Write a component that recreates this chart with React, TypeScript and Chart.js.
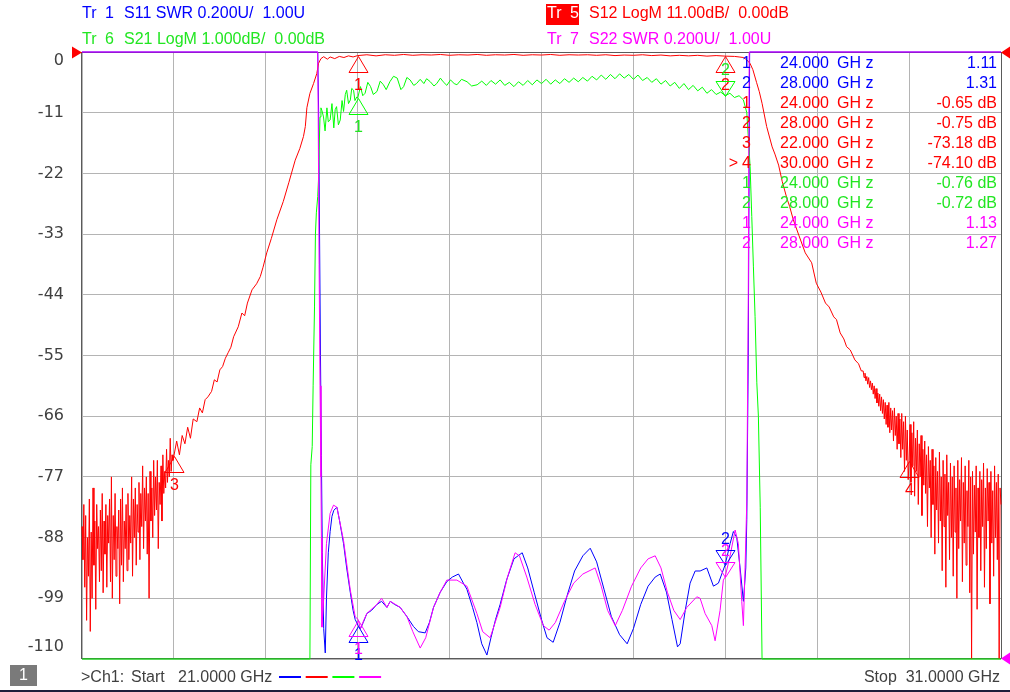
import React, { useEffect, useRef } from 'react';
import { Chart, registerables } from 'chart.js';

Chart.register(...registerables);

// ---------------- DATA ----------------
const FREQ_START = 21;
const FREQ_STOP = 31;
const yTickLabels = [0, -11, -22, -33, -44, -55, -66, -77, -88, -99, -110];

// Tr5 S12 LogM (dB): low-band noise, sampled every 0.01 GHz from 21.00 GHz
const s12LowNoiseStart = 21.0;
const s12LowNoiseStep = 0.01;
const s12LowNoise = [
  -86, -92, -82, -97, -84, -103, -88, -95, -81, -105,
  -87, -99, -79, -93, -85, -101, -82, -90, -86, -96,
  -83, -94, -80, -98, -85, -91, -82, -97, -84, -89,
  -81, -96, -77, -99, -84, -92, -80, -95, -86, -90,
  -83, -100, -81, -93, -79, -96, -85, -90, -82, -94,
  -80, -92, -84, -89, -77, -95, -81, -88, -79, -93,
  -82, -87, -78, -92, -80, -86, -75, -90, -79, -85,
  -77, -91, -80, -99, -76, -85, -79, -88, -74, -84,
  -77, -83, -74, -90, -78, -82, -75, -85, -73, -80,
  -76, -79, -72, -78, -74, -77, -70, -76, -73, -74,
];
// Tr5 S12 skirts and passband
const s12MidFreq = [
  22.0, 22.03, 22.06, 22.09, 22.12, 22.15, 22.18, 22.21, 22.25, 22.28,
  22.31, 22.34, 22.37, 22.41, 22.44, 22.47, 22.5, 22.53, 22.56, 22.59,
  22.62, 22.65, 22.7, 22.74, 22.77, 22.8, 22.85, 22.9, 22.94, 22.97,
  23.01, 23.06, 23.12, 23.19, 23.25, 23.32, 23.37, 23.41, 23.43, 23.447,
  23.48, 23.52, 23.555, 23.574, 23.6, 23.63,
  23.67, 23.7, 23.75, 23.8, 23.85, 23.9, 23.95, 24.0,
  24.1, 24.2, 24.3, 24.4, 24.5, 24.6, 24.7, 24.8, 24.9, 25.0,
  25.1, 25.2, 25.3, 25.4, 25.5, 25.6, 25.7, 25.8, 25.9, 26.0,
  26.1, 26.2, 26.3, 26.4, 26.5, 26.6, 26.7, 26.8, 26.9, 27.0,
  27.1, 27.2, 27.3, 27.4, 27.5, 27.6, 27.7, 27.8, 27.9, 28.0,
  28.1, 28.15,
  28.2, 28.235, 28.27, 28.3, 28.34, 28.37, 28.4, 28.45, 28.51, 28.54,
  28.58, 28.62, 28.67, 28.7, 28.74, 28.8, 28.87, 28.94, 28.99, 29.04,
  29.09, 29.13, 29.18, 29.21, 29.25, 29.29, 29.32, 29.36, 29.41, 29.45,
  29.48,
];
const s12MidVal = [
  -73.2, -70.5, -73, -69.5, -71, -68, -70, -66.5, -67, -64.5,
  -65.4, -63, -62.5, -61.5, -59.4, -59.8, -57.6, -57, -55.5, -54.5,
  -53.5, -51.6, -49.8, -47.3, -47.8, -45.5, -43.1, -42, -40.7, -39,
  -36.4, -33.8, -30.4, -27.1, -23.7, -19.6, -17.5, -15.3, -13.5, -10.1,
  -7.5, -5.7, -3.9, -2.05, -1.2, -0.85,
  -1.3, -0.9, -1.2, -0.8, -1.0, -0.7, -0.9, -0.65,
  -0.5, -0.7, -0.5, -0.6, -0.45, -0.6, -0.5, -0.55, -0.45, -0.6,
  -0.5, -0.55, -0.45, -0.6, -0.5, -0.55, -0.45, -0.6, -0.5, -0.55,
  -0.45, -0.6, -0.5, -0.55, -0.5, -0.6, -0.5, -0.65, -0.55, -0.6,
  -0.5, -0.65, -0.55, -0.7, -0.6, -0.7, -0.6, -0.75, -0.65, -0.75,
  -0.8, -0.9,
  -1.0, -1.45, -2.1, -3.2, -5.5, -7.2, -9.3, -13.5, -17.2, -18.5,
  -20.5, -23.5, -26.5, -28, -30.4, -33.2, -36.4, -38.2, -41.9, -43.5,
  -45.5, -46.2, -48, -48.5, -50.9, -52, -53.4, -54, -55.8, -56.5,
  -57.8,
];
// Tr5 S12 high-band noise, sampled every 0.01 GHz from 29.50 GHz
const s12HighNoiseStart = 29.5;
const s12HighNoiseStep = 0.01;
const s12HighNoise = [
  -57.8, -59.0, -58.2, -59.6, -58.8, -60.2, -59.0, -60.8, -59.6, -61.2,
  -60.0, -62.0, -60.5, -62.8, -61.0, -63.6, -61.8, -64.2, -62.0, -65.0,
  -62.5, -65.5, -63.0, -66.5, -63.5, -67.5, -64.0, -68.0, -63.5, -69.0,
  -64.5, -68.5, -65.0, -70.5, -64.5, -69.5, -66.0, -72.0, -65.5, -71.0,
  -66.5, -73.5, -65.5, -72.0, -67.0, -76.0, -66.0, -74.0, -68.5, -77.5,
  -74.1, -67.5, -78.0, -69.0, -75.0, -67.0, -80.5, -70.0, -76.0, -68.5,
  -82.0, -71.0, -77.0, -69.5, -84.0, -72.0, -78.5, -70.5, -80.0, -73.0,
  -86.0, -71.5, -79.0, -74.0, -88.0, -72.0, -82.0, -75.0, -91.0, -73.5,
  -83.0, -76.0, -89.0, -72.5, -85.0, -77.0, -94.0, -74.0, -86.0, -76.5,
  -97.0, -73.0, -84.0, -78.0, -92.0, -74.5, -88.0, -77.0, -95.0, -75.0,
  -87.0, -79.0, -99.0, -74.0, -90.0, -77.5, -85.0, -73.5, -96.0, -78.0,
  -89.0, -75.0, -93.0, -79.5, -86.0, -74.0, -98.0, -77.0, -110.0, -76.0,
  -91.0, -78.5, -87.0, -75.0, -101.0, -79.0, -88.0, -76.0, -94.0, -77.5,
  -86.0, -74.5, -97.0, -79.0, -90.0, -75.5, -85.0, -78.0, -100.0, -76.0,
  -89.0, -79.5, -95.0, -75.0, -88.0, -78.0, -92.0, -76.5, -110.0, -79.0,
  -82.0,
];

// Tr6 S21 LogM (dB), 1 dB/div, display floor -10 dB
const s21Freq = [
  21.0, 23.48, 23.49, 23.505, 23.515, 23.53, 23.54, 23.55, 23.565, 23.575,
  23.58, 23.59, 23.6, 23.61, 23.628, 23.645, 23.665, 23.68, 23.7, 23.72,
  23.74, 23.755, 23.77, 23.79, 23.81, 23.83, 23.846, 23.865, 23.88, 23.9,
  23.92, 23.935, 23.955, 23.97, 23.99, 24.0, 24.03, 24.055, 24.08, 24.11,
  24.14, 24.17, 24.21, 24.245, 24.28, 24.31, 24.35, 24.39, 24.43, 24.47,
  24.5, 24.535, 24.57, 24.61, 24.64, 24.68, 24.72, 24.75, 24.79, 24.83,
  24.86, 24.9, 24.93, 24.97, 25.01, 25.05, 25.08, 25.13, 25.19, 25.24,
  25.3, 25.35, 25.4, 25.45, 25.5, 25.55, 25.6, 25.65, 25.7, 25.75,
  25.8, 25.85, 25.9, 25.95, 26.0, 26.05, 26.1, 26.15, 26.2, 26.25,
  26.3, 26.35, 26.4, 26.45, 26.5, 26.55, 26.6, 26.65, 26.7, 26.75,
  26.8, 26.85, 26.9, 26.95, 27.0, 27.05, 27.1, 27.15, 27.2, 27.25,
  27.3, 27.35, 27.4, 27.45, 27.5, 27.55, 27.6, 27.65, 27.7, 27.75,
  27.8, 27.85, 27.9, 27.95, 28.0, 28.05, 28.1, 28.15, 28.197, 28.234,
  28.27, 28.288, 28.306, 28.324, 28.343, 28.36, 28.38, 28.4, 31.0,
];
const s21Val = [
  -10, -10, -6.8, -6.5, -5.5, -4.2, -3.0, -2.65, -2.38, -2.05,
  -1.6, -1.07, -0.92, -0.96, -1.07, -1.3, -0.92, -1.15, -1.12, -0.85,
  -1.25, -0.95, -0.9, -1.2, -1.12, -0.8, -0.98, -0.7, -0.63, -0.85,
  -0.79, -0.6, -0.63, -0.8, -0.74, -0.76, -0.57, -0.72, -0.68, -0.5,
  -0.57, -0.7, -0.65, -0.48, -0.54, -0.62, -0.49, -0.4, -0.43, -0.62,
  -0.57, -0.42, -0.46, -0.55, -0.52, -0.45, -0.52, -0.44, -0.49, -0.56,
  -0.52, -0.43, -0.49, -0.55, -0.46, -0.52, -0.54, -0.45, -0.49, -0.56,
  -0.54, -0.48, -0.55, -0.47, -0.53, -0.46, -0.55, -0.5, -0.57, -0.49,
  -0.55, -0.47, -0.54, -0.46, -0.52, -0.45, -0.53, -0.46, -0.52, -0.44,
  -0.5, -0.43, -0.49, -0.42, -0.48, -0.4, -0.46, -0.38, -0.45, -0.37,
  -0.44, -0.36, -0.43, -0.37, -0.45, -0.38, -0.47, -0.42, -0.5, -0.44,
  -0.53, -0.47, -0.56, -0.5, -0.6, -0.52, -0.62, -0.55, -0.64, -0.58,
  -0.68, -0.62, -0.7, -0.66, -0.72, -0.68, -0.75, -0.72, -0.79, -1.0,
  -1.89, -2.71, -3.54, -4.36, -5.45, -6.0, -7.5, -10, -10,
];

// Tr1 S11 SWR (U), 0.2 U/div, display ceiling 3.0
const s11Freq = [
  21.0, 23.565, 23.575, 23.585, 23.595, 23.605, 23.615, 23.63, 23.647, 23.66,
  23.68, 23.7, 23.72, 23.74, 23.774, 23.8, 23.846, 23.88, 23.919, 23.95,
  23.973, 24.006, 24.03, 24.06, 24.1, 24.15, 24.209, 24.26, 24.318, 24.354,
  24.4, 24.462, 24.535, 24.607, 24.66, 24.734, 24.78, 24.825, 24.898, 24.97,
  25.03, 25.097, 25.15, 25.188, 25.25, 25.297, 25.35, 25.406, 25.45, 25.5,
  25.55, 25.62, 25.7, 25.79, 25.85, 25.92, 26.0, 26.06, 26.127, 26.2,
  26.28, 26.36, 26.45, 26.53, 26.6, 26.68, 26.76, 26.85, 26.932, 27.0,
  27.08, 27.16, 27.237, 27.292, 27.36, 27.42, 27.48, 27.509, 27.564, 27.617,
  27.672, 27.726, 27.799, 27.871, 27.925, 27.998, 28.052, 28.088, 28.125, 28.161,
  28.197, 28.223, 28.234, 28.25, 28.265, 31.0,
];
const s11Val = [
  3.0, 3.0, 2.8, 2.4, 2.0, 1.67, 1.35, 1.1, 1.02, 1.2,
  1.35, 1.42, 1.47, 1.49, 1.5, 1.46, 1.38, 1.3, 1.22, 1.16,
  1.13, 1.11, 1.1, 1.12, 1.15, 1.16, 1.18, 1.19, 1.17, 1.19,
  1.18, 1.17, 1.14, 1.107, 1.09, 1.086, 1.12, 1.17, 1.22, 1.255,
  1.27, 1.28, 1.25, 1.23, 1.17, 1.12, 1.05, 1.013, 1.07, 1.13,
  1.18, 1.26, 1.33, 1.35, 1.3, 1.22, 1.13, 1.07, 1.055, 1.12,
  1.21, 1.29, 1.34, 1.365, 1.32, 1.23, 1.14, 1.08, 1.05, 1.1,
  1.18, 1.24, 1.27, 1.28, 1.22, 1.13, 1.04, 1.05, 1.16, 1.25,
  1.29, 1.29, 1.3, 1.24, 1.25, 1.31, 1.38, 1.42, 1.4, 1.3,
  1.19, 1.3, 1.46, 2.0, 3.0, 3.0,
];

// Tr7 S22 SWR (U), 0.2 U/div, display ceiling 3.0
const s22Freq = [
  21.0, 23.565, 23.57, 23.58, 23.59, 23.6, 23.605, 23.611, 23.63, 23.66,
  23.7, 23.737, 23.774, 23.846, 23.919, 23.973, 24.006, 24.028, 24.07, 24.1,
  24.209, 24.26, 24.318, 24.354, 24.41, 24.462, 24.535, 24.6, 24.68, 24.74,
  24.825, 24.898, 24.97, 25.079, 25.188, 25.297, 25.36, 25.441, 25.55, 25.63,
  25.713, 25.76, 25.84, 25.93, 26.02, 26.083, 26.15, 26.25, 26.35, 26.45,
  26.584, 26.65, 26.72, 26.802, 26.88, 26.98, 27.08, 27.16, 27.237, 27.3,
  27.37, 27.44, 27.509, 27.581, 27.69, 27.726, 27.78, 27.853, 27.889, 27.943,
  27.979, 27.998, 28.052, 28.107, 28.142, 28.179, 28.197, 28.215, 28.234, 28.25,
  28.26, 31.0,
];
const s22Val = [
  3.0, 3.0, 2.8, 2.3, 1.9, 1.6, 1.4, 1.105, 1.2, 1.38,
  1.48, 1.507, 1.5, 1.39, 1.228, 1.139, 1.13, 1.1, 1.13, 1.15,
  1.18, 1.2, 1.17, 1.19, 1.18, 1.17, 1.14, 1.09, 1.036, 1.07,
  1.17, 1.22, 1.26, 1.26, 1.24, 1.15, 1.09, 1.07, 1.17, 1.27,
  1.35, 1.34, 1.27, 1.18, 1.11, 1.095, 1.12, 1.19, 1.25, 1.28,
  1.3, 1.24, 1.16, 1.11, 1.16, 1.24, 1.3, 1.33, 1.34, 1.3,
  1.22, 1.16, 1.13, 1.17, 1.205, 1.2, 1.15, 1.11, 1.06, 1.16,
  1.26, 1.27, 1.34, 1.425, 1.38, 1.19, 1.11, 1.3, 1.52, 2.2,
  3.0, 3.0,
];

// Markers (frequency GHz, readout value)
const s11MarkerFreq = [24, 28];
const s11MarkerVal = [1.11, 1.31];
const s12MarkerFreq = [24, 28, 22, 30];
const s12MarkerVal = [-0.65, -0.75, -73.18, -74.1];
const s21MarkerFreq = [24, 28];
const s21MarkerVal = [-0.76, -0.72];
const s22MarkerFreq = [24, 28];
const s22MarkerVal = [1.13, 1.27];

// ---------------- STYLE ----------------
const BLUE = '#0000ff';
const RED = '#ff0000';
const GREEN = '#00ff00';
const MAGENTA = '#ff00ff';
const GREEN_TXT = '#22e622';
const GRID = '#b4b4b4';
const FRAME = '#5a5a5a';
const LABEL = '#404040';
const FONT = '16px "Liberation Sans", Arial, sans-serif';
const TICK_FONT = '16px "DejaVu Sans", sans-serif';

const zip = (f: number[], v: number[]) => f.map((x, i) => ({ x, y: v[i] }));
const uniform = (start: number, step: number, v: number[]) =>
  v.map((y, i) => ({ x: Math.round((start + i * step) * 10000) / 10000, y }));

const s12Data = [
  ...uniform(s12LowNoiseStart, s12LowNoiseStep, s12LowNoise),
  ...zip(s12MidFreq, s12MidVal),
  ...uniform(s12HighNoiseStart, s12HighNoiseStep, s12HighNoise),
];

type MarkerGroup = {
  freq: number[];
  val: number[];
  axis: string;
  color: string;
  txtColor: string;
  down: boolean[];
  fmt: (v: number) => string;
  active?: number;
};

const swrFmt = (v: number) => v.toFixed(2);
const dbFmt = (v: number) => v.toFixed(2) + ' dB';

const markerGroups: MarkerGroup[] = [
  { freq: s11MarkerFreq, val: s11MarkerVal, axis: 'ySwr', color: BLUE, txtColor: BLUE, down: [false, true], fmt: swrFmt },
  { freq: s12MarkerFreq, val: s12MarkerVal, axis: 'y', color: RED, txtColor: RED, down: [false, false, false, false], fmt: dbFmt, active: 3 },
  { freq: s21MarkerFreq, val: s21MarkerVal, axis: 'yS21', color: GREEN, txtColor: GREEN_TXT, down: [false, true], fmt: dbFmt },
  { freq: s22MarkerFreq, val: s22MarkerVal, axis: 'ySwr', color: MAGENTA, txtColor: MAGENTA, down: [false, true], fmt: swrFmt },
];

const vnaPlugin = {
  id: 'vnaDecor',
  beforeDatasetsDraw(chart: any) {
    const { ctx, chartArea: a } = chart;
    ctx.save();
    ctx.strokeStyle = FRAME;
    ctx.lineWidth = 1;
    ctx.strokeRect(Math.round(a.left) - 0.5, Math.round(a.top) + 0.5, Math.round(a.right - a.left) + 1, Math.round(a.bottom - a.top) - 1);
    ctx.restore();
  },
  afterDatasetsDraw(chart: any) {
    const { ctx } = chart;
    const xs = chart.scales.x;
    ctx.save();
    ctx.font = FONT;
    ctx.lineWidth = 1;
    ctx.textAlign = 'center';
    ctx.textBaseline = 'middle';
    markerGroups.forEach((g) => {
      const ys = chart.scales[g.axis];
      g.freq.forEach((f, i) => {
        const x = Math.round(xs.getPixelForValue(f)) + 0.5;
        const y = Math.round(ys.getPixelForValue(g.val[i])) + 0.5;
        const h = g.down[i] ? -15 : 16;
        ctx.strokeStyle = g.color;
        ctx.beginPath();
        ctx.moveTo(x, y);
        ctx.lineTo(x - 9.5, y + h);
        ctx.lineTo(x + 9.5, y + h);
        ctx.closePath();
        ctx.stroke();
        ctx.fillStyle = g.txtColor;
        ctx.fillText(String(i + 1), x, g.down[i] ? y + h - 11 : y + h + 13);
      });
    });
    ctx.restore();
  },
  afterDraw(chart: any) {
    const { ctx, chartArea: a } = chart;
    const yScale = chart.scales.y;
    ctx.save();
    ctx.textBaseline = 'middle';

    // y tick labels
    ctx.font = TICK_FONT;
    ctx.fillStyle = LABEL;
    ctx.textAlign = 'right';
    yTickLabels.forEach((v) => {
      let y = yScale.getPixelForValue(v);
      if (y < a.top + 8) y = a.top + 9;
      if (y > a.bottom - 8) y = a.bottom - 12;
      ctx.fillText(String(v), 64, y);
    });
    ctx.font = FONT;

    // reference-position arrows
    const topY = Math.round(a.top) + 0.5;
    const botY = Math.round(a.bottom) - 0.5;
    const tri = (pts: number[][], color: string) => {
      ctx.fillStyle = color;
      ctx.beginPath();
      ctx.moveTo(pts[0][0], pts[0][1]);
      ctx.lineTo(pts[1][0], pts[1][1]);
      ctx.lineTo(pts[2][0], pts[2][1]);
      ctx.closePath();
      ctx.fill();
    };
    tri([[a.left, topY], [a.left - 10, topY - 6], [a.left - 10, topY + 6]], RED);
    tri([[a.right, topY], [a.right + 9, topY - 6], [a.right + 9, topY + 6]], RED);
    tri([[a.right, botY], [a.right + 9, botY - 6], [a.right + 9, botY + 6]], MAGENTA);

    // trace headers
    ctx.textAlign = 'left';
    const header = (tr: string, x: number, y: number, color: string, text: string, boxed: boolean) => {
      if (boxed) {
        ctx.fillStyle = RED;
        ctx.fillRect(x - 1, y - 10, 33, 21);
        ctx.fillStyle = '#ffffff';
      } else {
        ctx.fillStyle = color;
      }
      ctx.fillText('Tr', x, y);
      ctx.fillText(tr, x + 23, y);
      ctx.fillStyle = color;
      ctx.fillText(text, x + 42, y);
    };
    header('1', 82, 14, BLUE, 'S11 SWR 0.200U/  1.00U', false);
    header('6', 82, 40, GREEN_TXT, 'S21 LogM 1.000dB/  0.00dB', false);
    header('5', 547, 14, RED, 'S12 LogM 11.00dB/  0.00dB', true);
    header('7', 547, 40, MAGENTA, 'S22 SWR 0.200U/  1.00U', false);

    // marker table
    let row = 0;
    markerGroups.forEach((g) => {
      g.freq.forEach((f, i) => {
        const y = 63.5 + row * 20;
        ctx.fillStyle = g.txtColor;
        ctx.textAlign = 'right';
        if (g.active === i) ctx.fillText('>', 738, y);
        ctx.fillText(String(i + 1), 751, y);
        ctx.textAlign = 'left';
        ctx.fillText(f.toFixed(3), 780, y);
        ctx.fillText('GH z', 837, y);
        ctx.textAlign = 'right';
        ctx.fillText(g.fmt(g.val[i]), 997, y);
        row++;
      });
    });

    // bottom status bar
    ctx.fillStyle = '#7a7a7a';
    ctx.fillRect(10, 665, 27, 21);
    ctx.fillStyle = '#ffffff';
    ctx.textAlign = 'center';
    ctx.fillText('1', 23.5, 676);
    ctx.fillStyle = LABEL;
    ctx.textAlign = 'left';
    ctx.fillText('>Ch1:', 81, 678);
    ctx.fillText('Start', 131, 678);
    ctx.fillText(FREQ_START.toFixed(4) + ' GHz', 178, 678);
    [BLUE, RED, GREEN, MAGENTA].forEach((c, i) => {
      ctx.fillStyle = c;
      ctx.fillRect(279 + i * 26.7, 676, 22, 2);
    });
    ctx.fillStyle = LABEL;
    ctx.textAlign = 'right';
    ctx.fillText('Stop  ' + FREQ_STOP.toFixed(4) + ' GHz', 1000, 678);
    ctx.fillStyle = '#1c1c3a';
    ctx.fillRect(0, 690, 1010, 2);
    ctx.restore();
  },
};

export default function App() {
  const ref = useRef<HTMLCanvasElement | null>(null);
  useEffect(() => {
    if (!ref.current) return;
    const common = { pointRadius: 0, borderWidth: 1, tension: 0, fill: false, clip: 3 } as any;
    const chart = new Chart(ref.current, {
      type: 'line',
      data: {
        datasets: [
          { ...common, label: 'S22', data: zip(s22Freq, s22Val), borderColor: MAGENTA, yAxisID: 'ySwr' },
          { ...common, label: 'S21', data: zip(s21Freq, s21Val), borderColor: GREEN, yAxisID: 'yS21' },
          { ...common, label: 'S12', data: s12Data, borderColor: RED, yAxisID: 'y' },
          { ...common, label: 'S11', data: zip(s11Freq, s11Val), borderColor: BLUE, yAxisID: 'ySwr' },
        ],
      },
      options: {
        responsive: false,
        maintainAspectRatio: false,
        devicePixelRatio: 1,
        animation: false,
        parsing: false,
        normalized: true,
        layout: { padding: { left: 82, top: 52, right: 9, bottom: 33 } },
        plugins: { legend: { display: false }, tooltip: { enabled: false } },
        scales: {
          x: {
            type: 'linear',
            min: FREQ_START,
            max: FREQ_STOP,
            ticks: { display: false, stepSize: 1 },
            grid: { color: GRID, drawTicks: false },
            border: { display: false },
            afterFit: (s: any) => { s.height = 0; },
          },
          y: {
            type: 'linear',
            min: -110,
            max: 0,
            ticks: { display: false, stepSize: 11 },
            grid: { color: GRID, drawTicks: false },
            border: { display: false },
            afterFit: (s: any) => { s.width = 0; },
          },
          ySwr: { type: 'linear', min: 1, max: 3, display: false },
          yS21: { type: 'linear', min: -10, max: 0, display: false },
        },
      } as any,
      plugins: [vnaPlugin],
    });
    return () => chart.destroy();
  }, []);
  return (
    <div style={{ position: 'absolute', left: 0, top: 0, width: 1010, height: 692, background: '#ffffff' }}>
      <canvas ref={ref} width={1010} height={692} style={{ display: 'block', width: 1010, height: 692 }} />
    </div>
  );
}
